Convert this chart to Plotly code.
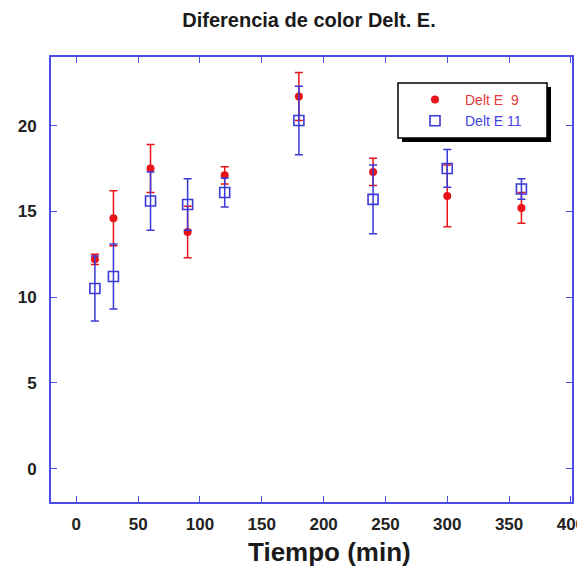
import plotly.graph_objects as go

tiempo = [15, 30, 60, 90, 120, 180, 240, 300, 360]
delt_e9 = [12.2, 14.6, 17.5, 13.8, 17.1, 21.7, 17.3, 15.9, 15.2]
delt_e9_err = [0.3, 1.6, 1.4, 1.5, 0.5, 1.4, 0.8, 1.8, 0.9]
delt_e11 = [10.5, 11.2, 15.6, 15.4, 16.1, 20.3, 15.7, 17.5, 16.3]
delt_e11_err = [1.9, 1.9, 1.7, 1.5, 0.85, 2.0, 2.0, 1.1, 0.6]
x_ticks = [0, 50, 100, 150, 200, 250, 300, 350, 400]
y_ticks = [0, 5, 10, 15, 20]

RED = "#e8141a"
BLUE = "#3a3ad6"
AXIS = "#4b4be6"
FONT = "Liberation Sans, Arial, sans-serif"

# page offset of the figure (default body margin)
OFF = 8
# plot frame in page pixels
PL, PR, PT, PB = 51, 572, 57, 502
W, H = 585 - OFF, 570 - OFF
L, T = PL - OFF, PT - OFF
R, B = W + OFF - PR, H + OFF - PB
PW, PH = PR - PL, PB - PT


def px(x):
    return (x - PL) / PW


def py(y):
    return (PB - y) / PH


fig = go.Figure()
fig.add_trace(go.Scatter(
    x=tiempo, y=delt_e9, mode="markers",
    name="<span style='color:#e03a3a'>Delt E  9</span>",
    marker=dict(symbol="circle", size=8, color=RED),
    error_y=dict(type="data", array=delt_e9_err, color=RED, thickness=1.5, width=4),
))
fig.add_trace(go.Scatter(
    x=tiempo, y=delt_e11, mode="markers",
    name="<span style='color:#4444e0'>Delt E 11</span>",
    marker=dict(symbol="square-open", size=10, color=BLUE, line=dict(width=1.6, color=BLUE)),
    error_y=dict(type="data", array=delt_e11_err, color=BLUE, thickness=1.5, width=4),
))

axis_common = dict(
    showline=True, linecolor=AXIS, linewidth=2, mirror="ticks",
    ticks="inside", tickcolor=AXIS, ticklen=6, tickwidth=1,
    showgrid=False, zeroline=False, automargin=False,
    ticklabeloverflow="allow",
    tickfont=dict(family=FONT, size=17, color="#222222", weight="bold"),
)

fig.update_layout(
    width=W, height=H,
    margin=dict(l=L, r=R, t=T, b=B),
    paper_bgcolor="white", plot_bgcolor="white",
    title=dict(text="Diferencia de color Delt. E.", x=(309 - OFF) / W, xanchor="center",
               y=1 - (20 - OFF) / H, yanchor="middle",
               font=dict(family=FONT, size=20, color="#1a1a1a", weight="bold")),
    xaxis=dict(range=[-20.5, 400.9], tickvals=x_ticks, ticklabelstandoff=6, **axis_common),
    yaxis=dict(range=[-1.95, 24.0], tickvals=y_ticks, ticklabelstandoff=9, **axis_common),
    showlegend=True,
    legend=dict(x=px(405), y=py(84), xanchor="left", yanchor="top",
                bgcolor="rgba(0,0,0,0)", borderwidth=0,
                font=dict(family=FONT, size=14), itemwidth=50),
    annotations=[dict(text="Tiempo (min)", xref="paper", yref="paper",
                      x=px(329), y=py(552), xanchor="center", yanchor="middle",
                      showarrow=False,
                      font=dict(family=FONT, size=26, color="#1a1a1a", weight="bold"))],
    shapes=[
        dict(type="rect", xref="paper", yref="paper",
             x0=px(402), x1=px(551), y0=py(142), y1=py(87),
             fillcolor="black", line=dict(width=0), layer="above"),
        dict(type="rect", xref="paper", yref="paper",
             x0=px(398), x1=px(547), y0=py(138), y1=py(83),
             fillcolor="white", line=dict(width=1.5, color="black"), layer="above"),
    ],
)

fig.write_html("out.html")
